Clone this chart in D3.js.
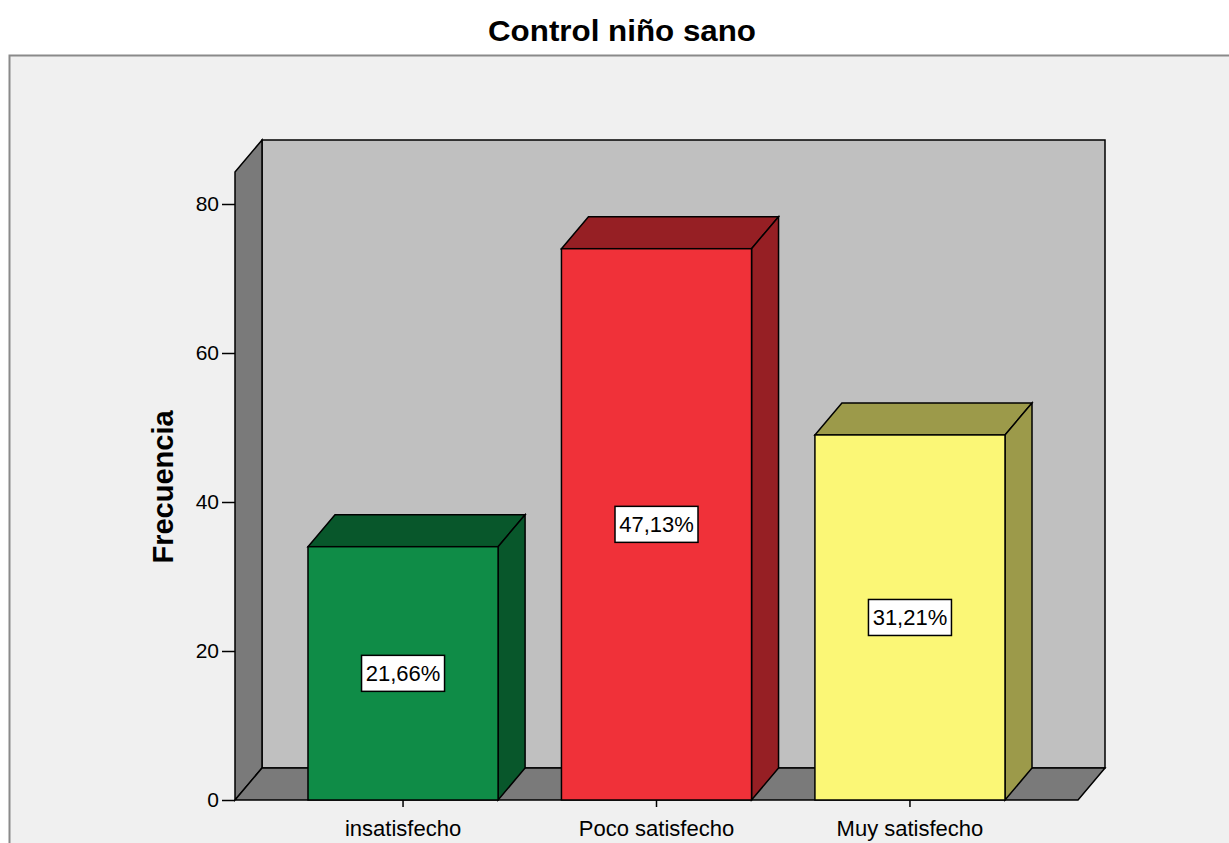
<!DOCTYPE html>
<html>
<head>
<meta charset="utf-8">
<script src="https://cdn.jsdelivr.net/npm/d3@7"></script>
<style>
  html, body { margin: 0; padding: 0; background: #ffffff; }
  svg { display: block; font-family: "Liberation Sans", Arial, sans-serif; }
</style>
</head>
<body>
<svg id="chart" width="1229" height="843"></svg>
<script>
const categories = ["insatisfecho", "Poco satisfecho", "Muy satisfecho"];
const frequencies = [34, 74, 49];
const percentLabels = ["21,66%", "47,13%", "31,21%"];
const yTicks = [0, 20, 40, 60, 80];
const faceColors = ["#0f8c47", "#f03139", "#fbf776"];
const sideColors = ["#08572b", "#961f24", "#9c9a4a"];

const svg = d3.select("#chart");
const W = 1229, H = 843;

// 3D geometry
const dx = 27, dy = -32;
const left = 235, right = 1078;
const y = d3.scaleLinear().domain([0, 80]).range([800, 204]);
const yTopFront = 172; // front-plane top of the wall
const x = d3.scaleBand().domain(categories).range([left, right])
  .paddingInner(0.25).paddingOuter(0.288);

// Outer frame
svg.append("rect").attr("x", 9.5).attr("y", 55.5).attr("width", W + 20).attr("height", H)
  .attr("fill", "#f0f0f0").attr("stroke", "#8a8a8a").attr("stroke-width", 2);

// Title
svg.append("text").attr("x", 622).attr("y", 41).attr("text-anchor", "middle")
  .attr("font-size", 30).attr("font-weight", "bold").attr("fill", "#000")
  .attr("textLength", 268).attr("lengthAdjust", "spacingAndGlyphs")
  .text("Control niño sano");

const g = svg.append("g");
const y0 = y(0);

// Back wall
g.append("polygon")
  .attr("points", [[left + dx, yTopFront + dy], [right + dx, yTopFront + dy], [right + dx, y0 + dy], [left + dx, y0 + dy]].join(" "))
  .attr("fill", "#c0c0c0").attr("stroke", "#000").attr("stroke-width", 1.5);
// Left wall
g.append("polygon")
  .attr("points", [[left, yTopFront], [left + dx, yTopFront + dy], [left + dx, y0 + dy], [left, y0]].join(" "))
  .attr("fill", "#7a7a7a").attr("stroke", "#000").attr("stroke-width", 1.5);
// Floor
g.append("polygon")
  .attr("points", [[left, y0], [left + dx, y0 + dy], [right + dx, y0 + dy], [right, y0]].join(" "))
  .attr("fill", "#7a7a7a").attr("stroke", "#000").attr("stroke-width", 1.5);

// Bars
categories.forEach((c, i) => {
  const x0 = x(c), x1 = x(c) + x.bandwidth();
  const yt = y(frequencies[i]);
  // top
  g.append("polygon")
    .attr("points", [[x0, yt], [x0 + dx, yt + dy], [x1 + dx, yt + dy], [x1, yt]].join(" "))
    .attr("fill", sideColors[i]).attr("stroke", "#000").attr("stroke-width", 1.5);
  // side
  g.append("polygon")
    .attr("points", [[x1, yt], [x1 + dx, yt + dy], [x1 + dx, y0 + dy], [x1, y0]].join(" "))
    .attr("fill", sideColors[i]).attr("stroke", "#000").attr("stroke-width", 1.5);
  // front
  g.append("rect").attr("x", x0).attr("y", yt).attr("width", x1 - x0).attr("height", y0 - yt)
    .attr("fill", faceColors[i]).attr("stroke", "#000").attr("stroke-width", 1.5);

  // percent label
  const cx = x0 + x.bandwidth() / 2, cy = (yt + y0) / 2;
  const lg = g.append("g");
  lg.append("rect").attr("x", cx - 41.5).attr("y", cy - 18).attr("width", 83).attr("height", 36)
    .attr("fill", "#fff").attr("stroke", "#000").attr("stroke-width", 1.5);
  lg.append("text").attr("x", cx).attr("y", cy + 8).attr("text-anchor", "middle")
    .attr("font-size", 22).attr("fill", "#000").text(percentLabels[i]);
});

// Y axis
const yAxis = g.append("g").attr("transform", `translate(${left},0)`)
  .call(d3.axisLeft(y).tickValues(yTicks).tickSize(13).tickPadding(3));
yAxis.select(".domain").remove();
yAxis.selectAll(".tick line").attr("stroke", "#000").attr("stroke-width", 1.5);
yAxis.selectAll(".tick text").attr("font-size", 21).attr("fill", "#000")
  .attr("font-family", "'Liberation Sans', Arial, sans-serif");

// X axis
const xAxis = g.append("g").attr("transform", `translate(0,${y0})`)
  .call(d3.axisBottom(x).tickSize(7).tickPadding(3));
xAxis.select(".domain").remove();
xAxis.selectAll(".tick line").attr("stroke", "#000").attr("stroke-width", 1.5);
xAxis.selectAll(".tick text").attr("font-size", 22).attr("fill", "#000")
  .attr("y", 20).attr("dy", "0.71em")
  .attr("font-family", "'Liberation Sans', Arial, sans-serif");

// Y axis title
svg.append("text").attr("transform", "translate(173,487) rotate(-90)")
  .attr("text-anchor", "middle").attr("font-size", 29).attr("font-weight", "bold")
  .attr("fill", "#000").text("Frecuencia");
</script>
</body>
</html>
